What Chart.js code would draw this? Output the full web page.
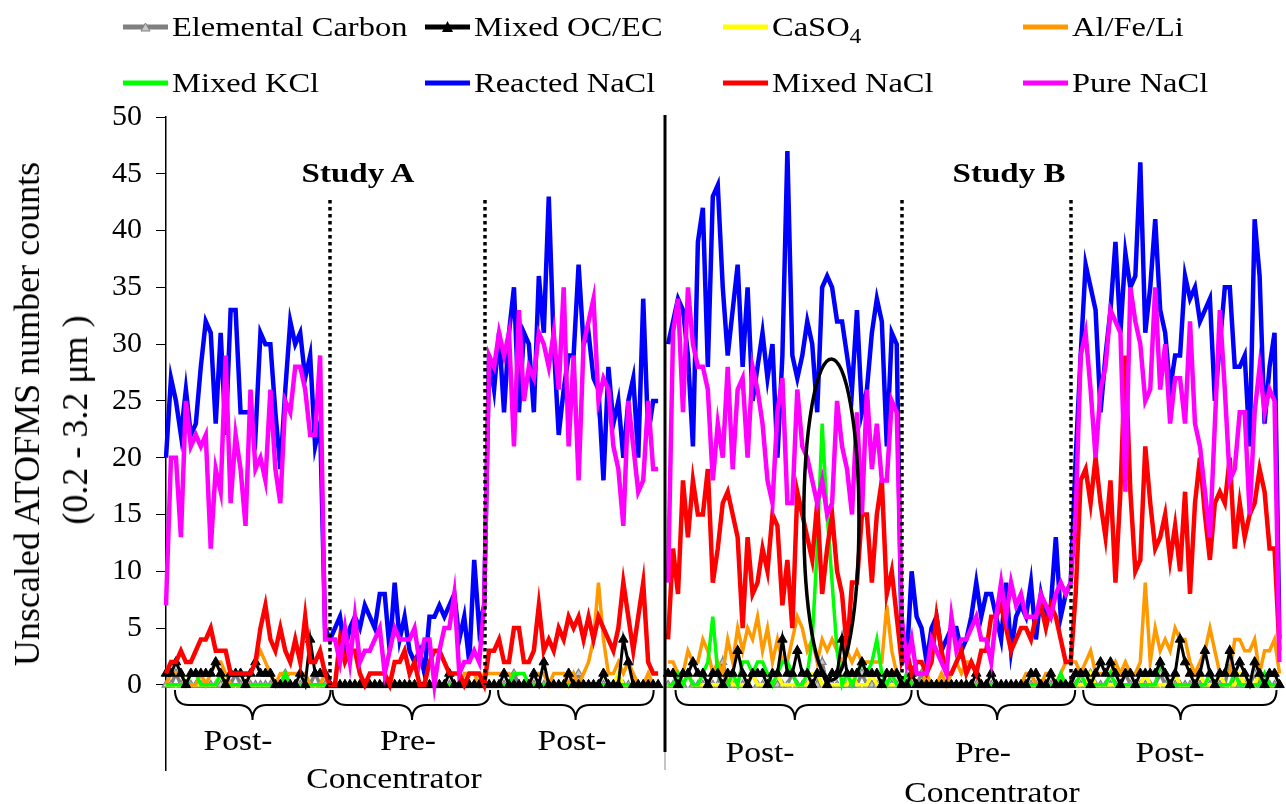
<!DOCTYPE html>
<html>
<head>
<meta charset="utf-8">
<script src="https://cdn.jsdelivr.net/npm/chart.js@4.4.1/dist/chart.umd.min.js"></script>
<style>
  html, body { margin: 0; padding: 0; background: #fff; }
  #wrap { position: relative; width: 1286px; height: 804px; overflow: hidden;
          font-family: "Liberation Serif", "Times New Roman", serif; color: #000; }
  #chart { position: absolute; left: 0; top: 0; }
  .txt { position: absolute; white-space: nowrap; font-size: 30px; line-height: 1;
         transform: translate(-50%, -50%) scaleX(1.12); }
  .study { font-weight: bold; font-size: 28px; transform: translate(-50%, -50%) scaleX(1.18); }
  .ytitle { position: absolute; white-space: nowrap; font-size: 36px; line-height: 1;
            transform: translate(-50%, -50%) rotate(-90deg); }
  .leg { position: absolute; display: flex; align-items: center; height: 34px;
         font-size: 28px; white-space: nowrap; }
  .leg svg { display: block; }
  .leg span { display: inline-block; margin-left: 4px; transform: scaleX(1.16); transform-origin: left center; }
  .leg sub { font-size: 0.72em; vertical-align: -0.35em; line-height: 0; }
</style>
</head>
<body>
<div id="wrap">
  <canvas id="chart" width="1286" height="804"></canvas>
</div>
<script>
// sections: A post (32) | A pre (33) | A post (35) | gap | B post (47) | B pre (34) | B post (43)
const elementalCarbon = [
  0,0,1,0,0,0,0,0,0,0, 0,0,0,0,1,0,0,0,0,0, 0,0,0,0,1,0,0,0,0,0, 1,0,
  0,0,0,0,0,0,0,0,0,0, 0,0,0,0,0,0,0,0,0,0, 0,0,0,0,0,0,0,0,0,0, 0,0,0,
  0,0,0,0,0,1,0,0,0,0, 0,0,0,0,0,0,0,0,1,0, 0,0,0,0,0,0,0,0,0,0, 0,0,0,0,0,
  null,
  0,0,0,0,1,0,0,0,0,0, 0,2,0,0,0,0,0,1,0,0, 0,0,0,0,0,1,0,0,0,0, 0,2,0,0,0,0,0,0,0,1, 0,0,0,0,0,0,0,
  0,0,0,0,1,0,0,0,0,0, 0,0,0,0,0,0,0,0,0,0, 0,0,0,0,0,0,0,0,0,0, 0,0,0,0,
  0,0,0,0,1,0,0,0,0,0, 0,1,0,0,0,0,0,0,1,0, 0,0,0,0,0,0,0,0,0,0, 0,0,2,0,0,0,0,1,0,0, 0,0,0
];
const mixedOcEc = [
  1,1,2,1,0,1,1,1,1,1, 2,1,0,1,1,1,0,1,2,1, 1,1,0,0,0,0,0,1,0,4, 1,1,
  1,0,0,0,0,0,0,0,0,0, 0,0,0,0,0,0,0,0,0,0, 0,0,0,0,0,1,0,0,0,0, 0,0,0,
  0,0,0,1,0,0,0,0,0,1, 0,2,0,0,0,0,1,0,0,0, 0,0,0,1,0,0,0,4,2,0, 0,0,0,0,0,
  null,
  1,1,0,1,1,2,1,1,0,1, 1,0,1,1,3,1,0,1,1,1, 0,1,1,4,1,1,3,1,1,0, 1,1,0,1,1,4,1,1,1,2, 1,1,1,0,1,1,1,
  0,0,1,0,0,0,0,0,0,0, 0,0,0,0,0,1,0,0,1,0, 0,0,0,0,0,0,1,1,0,0, 1,0,0,0,
  0,1,1,1,0,1,2,1,2,1, 0,1,1,0,1,1,1,1,2,1, 0,1,4,2,1,0,1,3,1,0, 1,1,3,1,2,1,0,2,1,0, 1,1,0
];
const caSO4 = [
  0,0,0,0,0,0,0,0,0,0, 0,1,0,0,0,0,0,0,0,0, 0,0,0,0,0,0,0,0,0,0, 0,0,
  0,0,0,0,0,0,0,0,0,0, 0,0,0,0,0,0,0,0,0,0, 0,0,0,0,0,0,0,0,0,0, 0,0,0,
  0,0,0,0,0,0,0,0,0,0, 0,0,0,0,0,0,0,0,0,0, 0,0,0,0,0,0,1,0,0,0, 0,0,0,0,0,
  null,
  0,0,0,0,1,0,0,0,0,0, 0,0,1,0,0,0,0,1,0,0, 0,0,1,0,0,0,0,0,0,1, 1,0,0,0,0,0,0,1,0,0, 0,1,0,0,0,0,0,
  0,0,0,0,0,0,0,0,0,0, 0,0,0,0,0,0,0,0,0,0, 0,0,0,0,0,0,0,0,0,0, 0,0,0,0,
  0,0,0,0,1,0,0,0,0,0, 0,0,0,0,0,1,0,0,0,0, 0,1,0,0,0,0,1,0,0,0, 1,0,0,0,1,0,0,0,1,0, 0,0,0
];
const alFeLi = [
  0,1,1,1,0,0,0,1,0,1, 2,2,1,0,0,0,0,1,2,3, 2,1,0,1,1,1,1,1,1,0, 0,0,
  1,0,0,0,0,0,0,0,0,0, 0,0,0,0,0,0,0,0,0,0, 0,0,0,0,0,0,0,0,1,1, 1,0,1,
  1,1,1,1,1,0,0,0,0,1, 1,1,0,1,1,1,0,1,0,1, 2,4,9,4,1,1,2,1,2,1, 0,0,1,0,0,
  null,
  2,2,1,1,3,2,2,4,3,1, 2,1,4,2,5,3,5,4,6,3, 5,2,4,2,2,4,6,5,3,4, 2,4,3,4,3,2,3,2,3,2, 2,2,2,2,7,3,1,
  0,0,1,0,0,1,0,0,1,0, 1,2,1,2,2,1,0,0,0,0, 0,0,0,0,0,1,1,0,0,1, 1,0,1,2,
  2,2,1,2,3,1,1,1,1,2, 1,2,1,1,2,9,2,5,3,4, 3,5,4,4,2,1,2,3,5,3, 1,1,1,4,4,3,3,4,1,3, 3,4,1
];
const mixedKCl = [
  0,0,0,0,0,1,1,0,0,0, 0,1,0,0,0,0,0,0,0,0, 0,0,0,0,1,0,0,0,0,0, 0,0,
  0,0,0,0,0,0,0,0,0,0, 0,0,0,0,0,0,0,0,0,0, 0,0,0,0,0,0,0,0,0,0, 0,0,0,
  0,0,0,0,0,1,1,1,0,0, 0,0,0,0,0,0,0,0,0,0, 0,0,0,0,0,0,0,0,0,0, 0,0,0,0,0,
  null,
  0,0,1,0,1,0,0,1,2,6, 1,0,0,1,0,2,2,1,2,2, 1,0,1,2,2,1,0,0,1,4, 12,23,15,9,3,0,1,0,1,2, 1,2,4,1,0,1,0,
  0,1,0,0,0,0,0,0,0,0, 0,0,0,0,0,0,0,0,0,0, 0,0,0,0,0,0,0,0,0,0, 0,0,1,0,
  0,0,1,0,0,0,0,0,1,0, 0,0,0,0,0,0,0,0,2,1, 0,0,0,0,0,0,0,0,1,0, 0,0,0,1,0,0,0,0,0,1, 0,0,0
];
const reactedNaCl = [
  20,27,25,22,26,22,23,28,32,31, 23,31,22,33,33,24,24,24,22,31, 30,30,24,19,26,32,30,31,27,29, 21,23,
  5,4,5,6,3,5,6,5,7,6, 5,8,8,3,9,4,6,3,2,3, 1,6,6,7,6,7,8,4,6,2, 11,5,7,
  29,26,31,24,31,35,24,31,30,24, 36,31,43,30,22,26,29,29,37,30, 31,27,26,18,28,23,25,20,25,27, 20,34,22,25,25,
  null,
  30,32,34,33,29,21,39,42,28,43, 44,35,29,33,37,28,35,25,28,31, 27,30,20,29,47,29,27,29,32,30, 24,35,36,35,32,32,29,26,33,24, 26,31,34,32,21,31,30,
  3,2,10,6,5,2,5,6,3,4, 5,5,3,4,6,9,6,8,8,6, 4,9,3,6,7,6,9,4,8,6, 7,13,6,8,
  9,20,29,37,35,33,24,29,33,39, 31,38,35,36,46,31,35,41,33,31, 26,29,29,36,34,35,32,33,34,25, 30,35,35,28,28,29,21,41,36,23, 28,31,4
];
const mixedNaCl = [
  1,2,2,3,2,2,3,4,4,5, 3,3,3,1,1,1,1,1,2,5, 7,4,3,5,3,2,4,2,6,2, 2,3,
  1,0,0,4,2,3,3,1,0,1, 1,1,1,0,2,2,3,1,2,0, 0,2,3,3,2,1,1,1,0,1, 1,1,0,
  3,3,4,2,2,5,5,2,2,3, 7,3,4,3,5,4,6,5,6,4, 6,4,6,5,4,3,5,9,6,3, 6,9,2,1,1,
  null,
  4,12,8,18,13,18,15,15,19,9, 12,16,17,15,13,5,13,8,9,12, 10,15,14,7,11,5,17,15,13,11, 16,8,12,15,10,8,3,9,9,15, 15,9,15,18,8,10,6,
  2,3,1,2,2,1,2,6,3,1, 1,2,3,1,2,1,3,3,6,6, 7,5,3,4,5,5,4,6,7,5, 7,6,4,2,
  2,8,18,19,16,20,16,13,18,9, 17,29,17,10,11,21,16,12,13,15, 11,14,10,17,8,16,20,15,11,16, 17,16,20,12,16,13,15,16,19,17, 12,12,3
];
const pureNaCl = [
  7,20,20,13,25,21,22,21,22,12, 19,17,29,16,22,19,14,26,19,20, 18,26,19,16,25,24,28,28,26,22, 22,29,
  4,4,4,2,5,2,6,2,3,3, 4,5,1,3,5,4,4,4,5,2, 4,4,0,3,5,5,8,1,2,2, 3,2,7,
  29,28,31,29,31,21,33,25,28,27, 31,30,28,31,26,35,21,29,18,30, 32,34,25,27,26,21,19,14,25,21, 17,18,25,19,19,
  null,
  9,31,34,24,35,30,28,28,26,18, 23,20,28,19,26,27,20,28,26,23, 18,16,24,27,16,16,26,21,20,18, 16,18,15,16,25,21,19,15,24,15, 26,19,23,18,18,25,24,
  6,2,4,1,1,1,4,3,2,1, 6,3,4,4,5,6,4,4,2,6, 9,6,9,7,8,6,6,6,8,7, 6,8,9,8,
  9,15,29,31,26,20,26,28,33,32, 31,17,35,32,30,25,26,35,26,30, 23,27,27,23,32,23,21,17,13,23, 33,26,18,19,24,24,15,24,28,24, 26,25,2
];

const seriesNames = ["Elemental Carbon", "Mixed OC/EC", "CaSO4", "Al/Fe/Li", "Mixed KCl", "Reacted NaCl", "Mixed NaCl", "Pure NaCl"];
const legendLabels = ["Elemental Carbon", "Mixed OC/EC", "CaSO<sub>4</sub>", "Al/Fe/Li", "Mixed KCl", "Reacted NaCl", "Mixed NaCl", "Pure NaCl"];
const seriesColors = ["#808080", "#000000", "#ffff00", "#ff9900", "#00ff00", "#0000ff", "#ff0000", "#ff00ff"];
const seriesValues = [elementalCarbon, mixedOcEc, caSO4, alFeLi, mixedKCl, reactedNaCl, mixedNaCl, pureNaCl];
const yTicks = [0, 5, 10, 15, 20, 25, 30, 35, 40, 45, 50];

const sampleCount = reactedNaCl.length;
seriesValues.forEach((arr, i) => {
  if (arr.length !== sampleCount) throw new Error(seriesNames[i] + " has " + arr.length + " values, expected " + sampleCount);
});
const sampleLabels = reactedNaCl.map((v, i) => String(i + 1));

// annotation anchors, in sample-index units
const dottedAt = [32.9, 64.2, 148.0, 182.1];
const dottedTop = 42.7;
const studySplit = 100.4;
const braces = [[1.8, 33.1, 17.4], [33.5, 65.2, 49.5], [66.8, 98.1, 82.4],
                [102.5, 150.0, 126.5], [151.2, 182.9, 167.2], [184.5, 223.4, 204.1]];
const ellipseBox = { left: 128.3, right: 139.4, top: 28.7, bottom: 0.4 };

const sectionLabels = [
  ["Post-", 238, 740], ["Pre-", 408, 740], ["Post-", 572, 740], ["Concentrator", 394, 778],
  ["Post-", 760, 752], ["Pre-", 983, 752], ["Post-", 1170, 752], ["Concentrator", 992, 792]
];
const studyLabels = [["Study A", 358, 173], ["Study B", 1009, 173]];

const wrap = document.getElementById("wrap");

function addText(cls, text, x, y) {
  const el = document.createElement("div");
  el.className = cls;
  el.textContent = text;
  el.style.left = x + "px";
  el.style.top = y + "px";
  wrap.appendChild(el);
}

sectionLabels.forEach(([t, x, y]) => addText("txt", t, x, y));
studyLabels.forEach(([t, x, y]) => addText("txt study", t, x, y));
addText("ytitle", "Unscaled ATOFMS number counts", 27, 414);
addText("ytitle", "(0.2 - 3.2 \u03bcm )", 75, 420);

// legend, 4 columns x 2 rows
const legendCols = [123, 425, 723, 1023];
const legendRows = [27, 83];
legendLabels.forEach((label, i) => {
  const c = seriesColors[i];
  let marker = "";
  if (i === 0) marker = '<polygon points="22.5,3 27,11 18,11" fill="#c8c8c8" stroke="#808080" stroke-width="1"/>';
  if (i === 1) marker = '<polygon points="22.5,1 28,12 17,12" fill="#000"/>';
  const item = document.createElement("div");
  item.className = "leg";
  item.style.left = legendCols[i % 4] + "px";
  item.style.top = (legendRows[Math.floor(i / 4)] - 17) + "px";
  item.innerHTML = '<svg width="45" height="14"><line x1="0" y1="7" x2="45" y2="7" stroke="' + c +
    '" stroke-width="5"/>' + marker + '</svg><span>' + label + '</span>';
  wrap.appendChild(item);
});

const drawOrder = [8, 4, 7, 6, 5, 3, 2, 1];
const datasets = seriesValues.map((values, i) => {
  const ds = {
    label: seriesNames[i],
    data: values,
    borderColor: seriesColors[i],
    backgroundColor: seriesColors[i],
    borderWidth: i >= 5 ? 4.5 : 3.5,
    pointRadius: 0,
    pointHoverRadius: 0,
    tension: 0,
    order: drawOrder[i]
  };
  if (i === 0) {
    Object.assign(ds, { pointStyle: "triangle", pointRadius: 4.5, pointBackgroundColor: "#c8c8c8",
                        pointBorderColor: "#808080", pointBorderWidth: 1.2 });
  }
  if (i === 1) {
    Object.assign(ds, { borderWidth: 3, pointStyle: "triangle", pointRadius: 5.5,
                        pointBackgroundColor: "#000", pointBorderColor: "#000", pointBorderWidth: 1 });
  }
  return ds;
});

const annotate = {
  id: "annotate",
  afterDatasetsDraw(chart) {
    const { ctx, chartArea } = chart;
    const x = chart.scales.x, y = chart.scales.y;
    ctx.save();
    ctx.strokeStyle = "#000";

    // dotted section dividers
    ctx.lineWidth = 3.5;
    ctx.setLineDash([3.5, 3.5]);
    dottedAt.forEach((pos) => {
      const px = Math.round(x.getPixelForValue(pos));
      ctx.beginPath();
      ctx.moveTo(px, y.getPixelForValue(dottedTop));
      ctx.lineTo(px, y.getPixelForValue(0));
      ctx.stroke();
    });
    ctx.setLineDash([]);

    // study divider
    const sx = Math.round(x.getPixelForValue(studySplit));
    ctx.lineWidth = 3;
    ctx.beginPath();
    ctx.moveTo(sx, chartArea.top - 2);
    ctx.lineTo(sx, 752);
    ctx.stroke();
    ctx.strokeStyle = "#888";
    ctx.lineWidth = 1;
    ctx.beginPath();
    ctx.moveTo(sx, 752);
    ctx.lineTo(sx, chartArea.bottom);
    ctx.stroke();

    // ellipse around the KCl spike
    const l = x.getPixelForValue(ellipseBox.left), r = x.getPixelForValue(ellipseBox.right);
    const t = y.getPixelForValue(ellipseBox.top), b = y.getPixelForValue(ellipseBox.bottom);
    ctx.strokeStyle = "#000";
    ctx.lineWidth = 3.5;
    ctx.beginPath();
    ctx.ellipse((l + r) / 2, (t + b) / 2, (r - l) / 2, (b - t) / 2, 0, 0, Math.PI * 2);
    ctx.stroke();

    // curly braces under the sections
    const y0 = 690, y1 = 705, y2 = 720, rad = 14;
    ctx.lineWidth = 2;
    braces.forEach(([a, bb, m]) => {
      const xa = x.getPixelForValue(a), xb = x.getPixelForValue(bb), xm = x.getPixelForValue(m);
      ctx.beginPath();
      ctx.moveTo(xa, y0);
      ctx.quadraticCurveTo(xa, y1, xa + rad, y1);
      ctx.lineTo(xm - rad, y1);
      ctx.quadraticCurveTo(xm, y1, xm, y2);
      ctx.quadraticCurveTo(xm, y1, xm + rad, y1);
      ctx.lineTo(xb - rad, y1);
      ctx.quadraticCurveTo(xb, y1, xb, y0);
      ctx.stroke();
    });
    ctx.restore();
  }
};

new Chart(document.getElementById("chart"), {
  type: "line",
  data: { labels: sampleLabels, datasets: datasets },
  options: {
    responsive: false,
    animation: false,
    layout: { padding: { top: 117, bottom: 34, left: 0, right: 2 } },
    plugins: { legend: { display: false }, tooltip: { enabled: false } },
    scales: {
      x: { display: false, offset: false },
      y: {
        min: -7.5,
        max: 50,
        afterBuildTicks(axis) {
          axis.ticks = yTicks.map((v) => ({ value: v }));
        },
        afterFit(axis) { axis.width = 166; },
        ticks: { color: "#000", padding: 14, font: { family: "Liberation Serif", size: 30 } },
        grid: { drawOnChartArea: false, tickLength: 10, color: "#000", tickColor: "#000" },
        border: { color: "#000", width: 1.5 }
      }
    }
  },
  plugins: [annotate]
});
</script>
</body>
</html>
